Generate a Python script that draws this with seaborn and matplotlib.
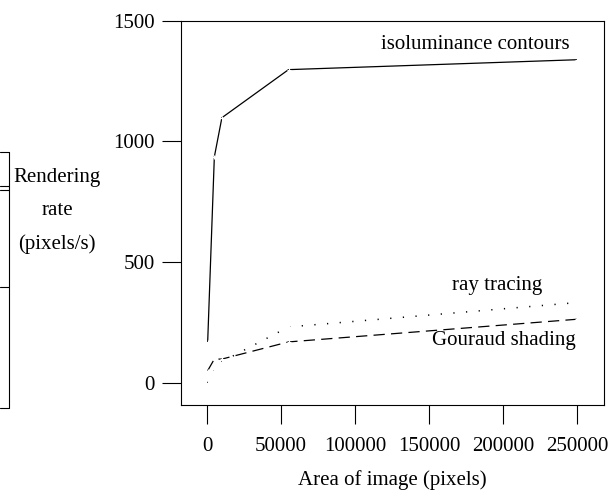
import numpy as np
import pandas as pd
import matplotlib
matplotlib.use("Agg")
import matplotlib.pyplot as plt
import seaborn as sns
from matplotlib.lines import Line2D

# datos
area = [400, 4900, 10000, 55000, 250000]
isoluminance = [170, 936, 1098, 1297, 1338]
ray_tracing = [0, 51, 88, 232, 333]
gouraud = [51, 99, 99, 170, 264]

x_ticks = [0, 50000, 100000, 150000, 200000, 250000]
y_ticks = [0, 500, 1000, 1500]

sns.set_theme(style="white")
plt.rcParams['font.family'] = ['Liberation Serif', 'DejaVu Serif']
plt.rcParams['text.color'] = 'black'
plt.rcParams['axes.labelcolor'] = 'black'

FS = 15

fig = plt.figure(figsize=(6.13, 4.96), dpi=100)
ax = fig.add_axes([0.2953, 0.1835, 0.690, 0.775])

df = pd.DataFrame({'area': area, 'iso': isoluminance, 'ray': ray_tracing, 'gou': gouraud})

sns.lineplot(data=df, x='area', y='iso', ax=ax, color='black', lw=0.9,
             marker='+', markersize=3, markeredgewidth=0.8)
sns.lineplot(data=df, x='area', y='ray', ax=ax, color='black', lw=1.1,
             marker='+', markersize=3, markeredgewidth=0.8)
ax.lines[-1].set_dashes((0.8, 7.5))
sns.lineplot(data=df, x='area', y='gou', ax=ax, color='black', lw=0.9,
             marker='+', markersize=3, markeredgewidth=0.8)
ax.lines[-1].set_dashes((9, 5))

ax.set_xlim(-17600, 268000)
ax.set_ylim(-91, 1500)
ax.set_xticks(x_ticks)
ax.set_xticklabels([str(v) for v in x_ticks])
ax.set_yticks(y_ticks)
ax.set_yticklabels([str(v) for v in y_ticks])
ax.tick_params(axis='both', direction='out', length=14, width=0.8, color='black',
               labelsize=FS, bottom=True, left=True, labelcolor='black')
ax.tick_params(axis='x', pad=9)
ax.tick_params(axis='y', pad=5)
for s in ax.spines.values():
    s.set_color('black')
    s.set_linewidth(0.8)

ax.set_xlabel('Area of image (pixels)', fontsize=FS, color='black', labelpad=10)
ax.set_ylabel('')
fig.text(57 / 613, 1 - 211 / 496, 'Rendering\nrate\n(pixels/s)', ha='center', va='center',
         fontsize=FS, linespacing=2.0, color='black')

ax.text(181000, 1401, 'isoluminance contours', fontsize=FS, ha='center', va='center')
ax.text(196000, 402, 'ray tracing', fontsize=FS, ha='center', va='center')
ax.text(200700, 174, 'Gouraud shading', fontsize=FS, ha='center', va='center')

# restos de un recuadro recortado en el borde izquierdo
for yy in [152, 186, 190, 287, 408]:
    fig.add_artist(Line2D([0, 9 / 613], [1 - yy / 496] * 2, color='black', lw=0.8))
fig.add_artist(Line2D([9 / 613] * 2, [1 - 152 / 496, 1 - 408 / 496], color='black', lw=0.8))

fig.savefig('out.png', dpi=100)
